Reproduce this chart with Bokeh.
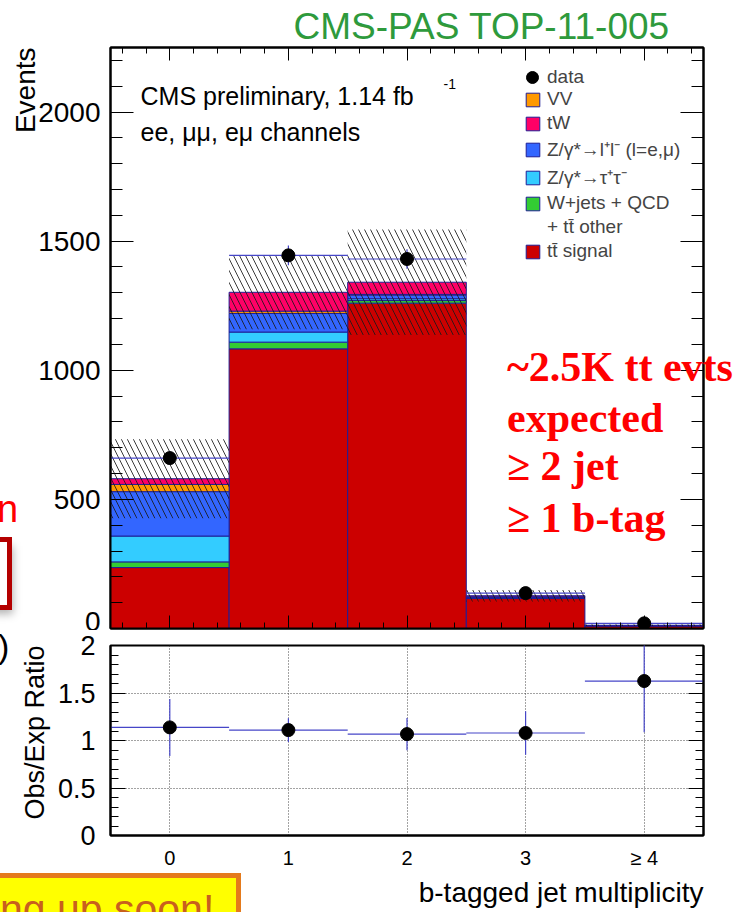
import numpy as np
from bokeh.plotting import figure
from bokeh.layouts import column
from bokeh.models import (FixedTicker, LinearAxis, Range1d, Label, Legend,
                          LegendItem, Title, Div)
from bokeh.embed import file_html
from bokeh.resources import INLINE

# ---------------------------------------------------------------- data
nbtag = [0, 1, 2, 3, 4]
nbtag_labels = ["0", "1", "2", "3", "≥ 4"]

# expected yields per bin (stacked from the bottom up)
tt_signal = [236, 1083, 1260, 116, 10.3]
wjets_qcd_ttother = [22, 26, 10, 2, 0.4]
z_tautau = [100, 39, 7, 1, 0.3]
z_ll = [172, 72, 14, 3, 0.5]
diboson_vv = [28, 9, 3, 1, 0.2]
single_top_tw = [22, 73, 47, 4, 0.6]
mc_uncertainty = [153, 143, 204, 22, 4]

# observed
data_yield = [660, 1445, 1431, 137, 20]
data_yield_err = [26, 38, 38, 12, 4.5]
ratio_err = [0.30, 0.125, 0.17, 0.23, 0.54]

# ---------------------------------------------------------------- style
SANS = "Liberation Sans"
SERIF = "Liberation Serif"
OUTLINE = "#1e1e96"
ERRBAR = "#4646c8"

W = 740
H_MAIN, H_RATIO = 630, 282
FL, FR = 110, 703            # frame left / right (page px)
MAIN_TOP, MAIN_BOT = 47, 628
RAT_TOP, RAT_BOT = 645, 835


def mx(cx):
    return cx - FL


def my(cy):
    return MAIN_BOT - cy


def style_axis(ax, major_in, minor_in, labels=True, size="28px", standoff=10):
    ax.axis_line_color = "black"
    ax.axis_line_width = 2
    ax.major_tick_in = major_in
    ax.major_tick_out = 0
    ax.minor_tick_in = minor_in
    ax.minor_tick_out = 0
    ax.major_tick_line_color = "black"
    ax.minor_tick_line_color = "black"
    ax.major_label_text_font = SANS
    if labels:
        ax.major_label_text_color = "black"
        ax.major_label_text_font_size = size
        ax.major_label_standoff = standoff
    else:
        ax.major_label_text_color = None
        ax.major_label_standoff = 0


x = np.array(nbtag, dtype=float)
left, right = x - 0.5, x + 0.5

x_major = FixedTicker(ticks=nbtag,
                      minor_ticks=[round(v, 2) for v in np.arange(-0.4, 4.5, 0.2)])
y_main = FixedTicker(ticks=[0, 500, 1000, 1500, 2000],
                     minor_ticks=list(range(0, 2300, 100)))

# ---------------------------------------------------------------- main pad
p = figure(width=W, height=H_MAIN, x_range=Range1d(-0.5, 4.5),
           y_range=Range1d(0, 2250), output_backend="svg",
           toolbar_location=None, min_border_left=FL, min_border_right=W - FR,
           min_border_top=MAIN_TOP, min_border_bottom=H_MAIN - MAIN_BOT)
p.grid.visible = False
p.outline_line_color = "black"
p.outline_line_width = 2
p.background_fill_color = "white"
p.border_fill_color = "white"

p.xaxis.ticker = x_major
style_axis(p.xaxis[0], 13, 6, labels=False)
p.yaxis.ticker = y_main
style_axis(p.yaxis[0], 23, 12, size="28px", standoff=10)

top_ax = LinearAxis(ticker=x_major)
style_axis(top_ax, 13, 6, labels=False)
p.add_layout(top_ax, "above")
right_ax = LinearAxis(ticker=y_main)
style_axis(right_ax, 23, 12, labels=False)
p.add_layout(right_ax, "right")

p.add_layout(Title(text="CMS-PAS TOP-11-005", align="left", offset=183,
                   standoff=2, text_font=SANS, text_font_style="normal",
                   text_font_size="37px", text_color="#2e9a3c"), "above")
p.add_layout(Title(text="Events", align="right", standoff=-10, text_font=SANS,
                   text_font_style="normal", text_font_size="28px",
                   text_color="black"), "left")

layers = [
    ("tt̄ signal", tt_signal, "#cc0000"),
    ("W+jets + QCD", wjets_qcd_ttother, "#33cc33"),
    ("Z/γ*→τ⁺τ⁻", z_tautau, "#33ccff"),
    ("Z/γ*→l⁺l⁻ (l=e,μ)", z_ll, "#3366ff"),
    ("VV", diboson_vv, "#ff9900"),
    ("tW", single_top_tw, "#ff0066"),
]
base = np.zeros(len(nbtag))
rend = {}
for name, vals, color in layers:
    top = base + np.array(vals, dtype=float)
    rend[name] = p.quad(left=left, right=right, bottom=base, top=top,
                        fill_color=color, line_color=OUTLINE, line_width=1)
    base = top
mc_total = base
unc = np.array(mc_uncertainty, dtype=float)

p.quad(left=left, right=right, bottom=mc_total - unc, top=mc_total + unc,
       fill_alpha=0, line_alpha=0, hatch_pattern="left_diagonal_line",
       hatch_color="#1a1a1a", hatch_alpha=0.85, hatch_scale=12, hatch_weight=1)

d = np.array(data_yield, dtype=float)
de = np.array(data_yield_err, dtype=float)
p.segment(x0=left, x1=right, y0=d, y1=d, line_color=ERRBAR, line_width=1.2)
p.segment(x0=x, x1=x, y0=d - de, y1=d + de, line_color=ERRBAR, line_width=1.2)
r_data = p.scatter(x=x, y=d, size=13, color="black")

r_blank = p.quad(left=[], right=[], bottom=[], top=[], fill_alpha=0, line_alpha=0)

leg = Legend(items=[
    LegendItem(label="VV", renderers=[rend["VV"]]),
    LegendItem(label="tW", renderers=[rend["tW"]]),
    LegendItem(label="Z/γ*→l⁺l⁻ (l=e,μ)", renderers=[rend["Z/γ*→l⁺l⁻ (l=e,μ)"]]),
    LegendItem(label="Z/γ*→τ⁺τ⁻", renderers=[rend["Z/γ*→τ⁺τ⁻"]]),
    LegendItem(label="W+jets + QCD", renderers=[rend["W+jets + QCD"]]),
    LegendItem(label="+ tt̄ other", renderers=[r_blank]),
    LegendItem(label="tt̄ signal", renderers=[rend["tt̄ signal"]]),
], location=(mx(524), my(262)), glyph_width=17, glyph_height=17,
    label_height=17, spacing=2, label_standoff=6, padding=0, margin=0,
    label_text_font=SANS, label_text_font_size="19px",
    background_fill_alpha=0, border_line_alpha=0)
p.add_layout(leg)

leg_data = Legend(items=[LegendItem(label="data", renderers=[r_data])],
                  location=(mx(517), my(92)), glyph_width=30, glyph_height=30,
                  label_standoff=0, padding=0, margin=0,
                  label_text_font=SANS, label_text_font_size="19px",
                  background_fill_alpha=0, border_line_alpha=0)
p.add_layout(leg_data)


def add_main_text(text, cx, cy, **kw):
    opts = dict(text_font=SANS, text_color="black", text_baseline="alphabetic")
    opts.update(kw)
    p.add_layout(Label(x=mx(cx), y=my(cy), x_units="screen", y_units="screen",
                       text=text, **opts))


add_main_text("CMS preliminary, 1.14 fb", 140, 95, text_font_size="25px")
add_main_text("-1", 443, 83, text_font_size="14px")
add_main_text("ee, μμ, eμ channels", 140, 131, text_font_size="25px")

# ---------------------------------------------------------------- ratio pad
ratio = d / mc_total
rerr = np.array(ratio_err, dtype=float)

y_ratio = FixedTicker(ticks=[0, 0.5, 1, 1.5, 2],
                      minor_ticks=[round(v, 2) for v in np.arange(0, 2.01, 0.1)])

q = figure(width=W, height=H_RATIO, x_range=Range1d(-0.5, 4.5),
           y_range=Range1d(0, 2), output_backend="svg", toolbar_location=None,
           min_border_left=FL, min_border_right=W - FR,
           min_border_top=RAT_TOP - H_MAIN,
           min_border_bottom=H_MAIN + H_RATIO - RAT_BOT)
q.outline_line_color = "black"
q.outline_line_width = 2
q.background_fill_color = "white"
q.border_fill_color = "white"

q.xaxis.ticker = FixedTicker(ticks=nbtag, minor_ticks=[])
style_axis(q.xaxis[0], 0, 0, size="20px", standoff=11)
q.xaxis.major_label_overrides = {v: s for v, s in zip(nbtag, nbtag_labels)}
q.yaxis.ticker = y_ratio
style_axis(q.yaxis[0], 15, 8, size="27px", standoff=15)
q.yaxis.major_label_overrides = {0: "0", 0.5: "0.5", 1: "1", 1.5: "1.5", 2: "2"}
r_ax = LinearAxis(ticker=y_ratio)
style_axis(r_ax, 15, 8, labels=False)
q.add_layout(r_ax, "right")

q.add_layout(Title(text="Obs/Exp Ratio", align="right", standoff=10,
                   text_font=SANS, text_font_style="normal",
                   text_font_size="27px", text_color="black"), "left")
q.add_layout(Title(text="b-tagged jet multiplicity", align="right", standoff=7,
                   text_font=SANS, text_font_style="normal",
                   text_font_size="28px", text_color="black"), "below")

q.xgrid.ticker = FixedTicker(ticks=nbtag)
q.ygrid.ticker = FixedTicker(ticks=[0.5, 1, 1.5])
for g in (q.xgrid[0], q.ygrid[0]):
    g.grid_line_color = "#333333"
    g.grid_line_dash = "1 2"
    g.grid_line_width = 1
    g.grid_line_alpha = 0.9

q.segment(x0=left, x1=right, y0=ratio, y1=ratio, line_color=ERRBAR, line_width=1.2)
q.segment(x0=x, x1=x, y0=ratio - rerr, y1=ratio + rerr, line_color=ERRBAR,
          line_width=1.2)
q.scatter(x=x, y=ratio, size=13, color="black")

# ---------------------------------------------------------------- slide overlay
# annotation and neighbouring slide content drawn over both pads
note_lines = ["~2.5K tt evts", "expected", "≥ 2 jet", "≥ 1 b-tag"]
note_y = [376, 427, 475, 527]
note_svg = "".join(
    f'<text x="502" y="{yy}" style="font-family:\'{SERIF}\';font-weight:bold;'
    f'font-size:42px;fill:#ff0000">{t}</text>' for t, yy in zip(note_lines, note_y))

sans_style = f"font-family:'{SANS}';font-weight:normal"
overlay_svg = f'''
<svg xmlns="http://www.w3.org/2000/svg" width="{W}" height="912"
     style="position:absolute;left:0;top:0;overflow:visible;pointer-events:none">
  <defs>
    <filter id="softshadow" x="-50%" y="-50%" width="200%" height="200%">
      <feGaussianBlur stdDeviation="4"/>
    </filter>
  </defs>
  <rect x="-40" y="541" width="48" height="68" fill="black" fill-opacity="0.3"
        filter="url(#softshadow)"/>
  <rect x="-40" y="534.5" width="44.5" height="68" fill="white"
        stroke="#b40000" stroke-width="5"/>
  <text x="-8" y="517" style="{sans_style};font-size:38px;fill:#ff0000">n</text>
  <text x="-7" y="653" style="{sans_style};font-size:34px;fill:#000000">)</text>
  <rect x="-30" y="870.5" width="263.5" height="80" fill="#ffff00"
        stroke="#e47a1c" stroke-width="5"/>
  <text x="-5" y="918" style="{sans_style};font-size:41px;fill:#c8601e">ng up soon!</text>
  {note_svg}
</svg>'''

overlay = Div(text=overlay_svg, width=W, height=0,
              styles={"position": "absolute", "left": "0px", "top": "0px",
                      "z-index": "10", "overflow": "visible",
                      "pointer-events": "none"})

layout = column(p, q, overlay, spacing=0)
open("out.html", "w").write(file_html(layout, INLINE))
